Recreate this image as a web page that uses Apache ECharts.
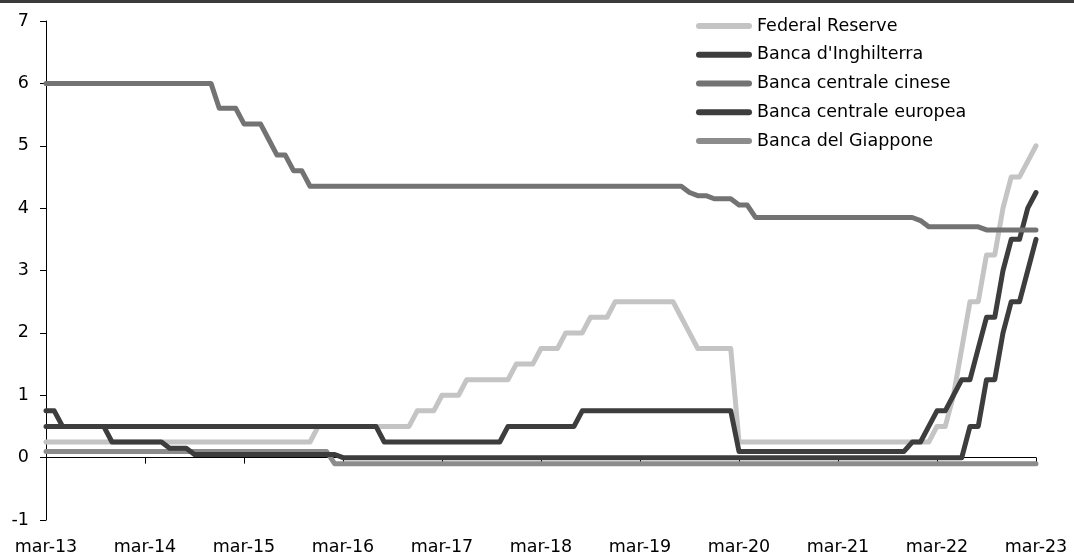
<!DOCTYPE html>
<html>
<head>
<meta charset="utf-8">
<script src="https://cdn.jsdelivr.net/npm/echarts@6/dist/echarts.min.js"></script>
<style>
html,body{margin:0;padding:0;background:#fff;}
#chart{width:1074px;height:556px;}
</style>
</head>
<body>
<div id="chart"></div>
<script>
// Monthly categories, mar-13 .. mar-23
const categories = [
  'mar-13','apr-13','mag-13','giu-13','lug-13','ago-13','set-13','ott-13','nov-13','dic-13','gen-14','feb-14',
  'mar-14','apr-14','mag-14','giu-14','lug-14','ago-14','set-14','ott-14','nov-14','dic-14','gen-15','feb-15',
  'mar-15','apr-15','mag-15','giu-15','lug-15','ago-15','set-15','ott-15','nov-15','dic-15','gen-16','feb-16',
  'mar-16','apr-16','mag-16','giu-16','lug-16','ago-16','set-16','ott-16','nov-16','dic-16','gen-17','feb-17',
  'mar-17','apr-17','mag-17','giu-17','lug-17','ago-17','set-17','ott-17','nov-17','dic-17','gen-18','feb-18',
  'mar-18','apr-18','mag-18','giu-18','lug-18','ago-18','set-18','ott-18','nov-18','dic-18','gen-19','feb-19',
  'mar-19','apr-19','mag-19','giu-19','lug-19','ago-19','set-19','ott-19','nov-19','dic-19','gen-20','feb-20',
  'mar-20','apr-20','mag-20','giu-20','lug-20','ago-20','set-20','ott-20','nov-20','dic-20','gen-21','feb-21',
  'mar-21','apr-21','mag-21','giu-21','lug-21','ago-21','set-21','ott-21','nov-21','dic-21','gen-22','feb-22',
  'mar-22','apr-22','mag-22','giu-22','lug-22','ago-22','set-22','ott-22','nov-22','dic-22','gen-23','feb-23',
  'mar-23'
];

const seriesNames = ['Federal Reserve', "Banca d'Inghilterra", 'Banca centrale cinese', 'Banca centrale europea', 'Banca del Giappone'];

const fed = [
  0.25,0.25,0.25,0.25,0.25,0.25,0.25,0.25,0.25,0.25,0.25,0.25,
  0.25,0.25,0.25,0.25,0.25,0.25,0.25,0.25,0.25,0.25,0.25,0.25,
  0.25,0.25,0.25,0.25,0.25,0.25,0.25,0.25,0.25,0.5,0.5,0.5,
  0.5,0.5,0.5,0.5,0.5,0.5,0.5,0.5,0.5,0.75,0.75,0.75,
  1.0,1.0,1.0,1.25,1.25,1.25,1.25,1.25,1.25,1.5,1.5,1.5,
  1.75,1.75,1.75,2.0,2.0,2.0,2.25,2.25,2.25,2.5,2.5,2.5,
  2.5,2.5,2.5,2.5,2.5,2.25,2.0,1.75,1.75,1.75,1.75,1.75,
  0.25,0.25,0.25,0.25,0.25,0.25,0.25,0.25,0.25,0.25,0.25,0.25,
  0.25,0.25,0.25,0.25,0.25,0.25,0.25,0.25,0.25,0.25,0.25,0.25,
  0.5,0.5,1.0,1.75,2.5,2.5,3.25,3.25,4.0,4.5,4.5,4.75,
  5.0
];

const boe = [
  0.5,0.5,0.5,0.5,0.5,0.5,0.5,0.5,0.5,0.5,0.5,0.5,
  0.5,0.5,0.5,0.5,0.5,0.5,0.5,0.5,0.5,0.5,0.5,0.5,
  0.5,0.5,0.5,0.5,0.5,0.5,0.5,0.5,0.5,0.5,0.5,0.5,
  0.5,0.5,0.5,0.5,0.5,0.25,0.25,0.25,0.25,0.25,0.25,0.25,
  0.25,0.25,0.25,0.25,0.25,0.25,0.25,0.25,0.5,0.5,0.5,0.5,
  0.5,0.5,0.5,0.5,0.5,0.75,0.75,0.75,0.75,0.75,0.75,0.75,
  0.75,0.75,0.75,0.75,0.75,0.75,0.75,0.75,0.75,0.75,0.75,0.75,
  0.1,0.1,0.1,0.1,0.1,0.1,0.1,0.1,0.1,0.1,0.1,0.1,
  0.1,0.1,0.1,0.1,0.1,0.1,0.1,0.1,0.1,0.25,0.25,0.5,
  0.75,0.75,1.0,1.25,1.25,1.75,2.25,2.25,3.0,3.5,3.5,4.0,
  4.25
];

const pboc = [
  6.0,6.0,6.0,6.0,6.0,6.0,6.0,6.0,6.0,6.0,6.0,6.0,
  6.0,6.0,6.0,6.0,6.0,6.0,6.0,6.0,6.0,5.6,5.6,5.6,
  5.35,5.35,5.35,5.1,4.85,4.85,4.6,4.6,4.35,4.35,4.35,4.35,
  4.35,4.35,4.35,4.35,4.35,4.35,4.35,4.35,4.35,4.35,4.35,4.35,
  4.35,4.35,4.35,4.35,4.35,4.35,4.35,4.35,4.35,4.35,4.35,4.35,
  4.35,4.35,4.35,4.35,4.35,4.35,4.35,4.35,4.35,4.35,4.35,4.35,
  4.35,4.35,4.35,4.35,4.35,4.35,4.25,4.2,4.2,4.15,4.15,4.15,
  4.05,4.05,3.85,3.85,3.85,3.85,3.85,3.85,3.85,3.85,3.85,3.85,
  3.85,3.85,3.85,3.85,3.85,3.85,3.85,3.85,3.85,3.85,3.8,3.7,
  3.7,3.7,3.7,3.7,3.7,3.7,3.65,3.65,3.65,3.65,3.65,3.65,
  3.65
];

const ecb = [
  0.75,0.75,0.5,0.5,0.5,0.5,0.5,0.5,0.25,0.25,0.25,0.25,
  0.25,0.25,0.25,0.15,0.15,0.15,0.05,0.05,0.05,0.05,0.05,0.05,
  0.05,0.05,0.05,0.05,0.05,0.05,0.05,0.05,0.05,0.05,0.05,0.05,
  0,0,0,0,0,0,0,0,0,0,0,0,
  0,0,0,0,0,0,0,0,0,0,0,0,
  0,0,0,0,0,0,0,0,0,0,0,0,
  0,0,0,0,0,0,0,0,0,0,0,0,
  0,0,0,0,0,0,0,0,0,0,0,0,
  0,0,0,0,0,0,0,0,0,0,0,0,
  0,0,0,0,0.5,0.5,1.25,1.25,2.0,2.5,2.5,3.0,
  3.5
];

const boj = [
  0.1,0.1,0.1,0.1,0.1,0.1,0.1,0.1,0.1,0.1,0.1,0.1,
  0.1,0.1,0.1,0.1,0.1,0.1,0.1,0.1,0.1,0.1,0.1,0.1,
  0.1,0.1,0.1,0.1,0.1,0.1,0.1,0.1,0.1,0.1,0.1,-0.1,
  -0.1,-0.1,-0.1,-0.1,-0.1,-0.1,-0.1,-0.1,-0.1,-0.1,-0.1,-0.1,
  -0.1,-0.1,-0.1,-0.1,-0.1,-0.1,-0.1,-0.1,-0.1,-0.1,-0.1,-0.1,
  -0.1,-0.1,-0.1,-0.1,-0.1,-0.1,-0.1,-0.1,-0.1,-0.1,-0.1,-0.1,
  -0.1,-0.1,-0.1,-0.1,-0.1,-0.1,-0.1,-0.1,-0.1,-0.1,-0.1,-0.1,
  -0.1,-0.1,-0.1,-0.1,-0.1,-0.1,-0.1,-0.1,-0.1,-0.1,-0.1,-0.1,
  -0.1,-0.1,-0.1,-0.1,-0.1,-0.1,-0.1,-0.1,-0.1,-0.1,-0.1,-0.1,
  -0.1,-0.1,-0.1,-0.1,-0.1,-0.1,-0.1,-0.1,-0.1,-0.1,-0.1,-0.1,
  -0.1
];

const colors = {
  fed: '#c4c4c4',
  boe: '#3d3d3d',
  pboc: '#737373',
  ecb: '#3d3d3d',
  boj: '#8c8c8c'
};

const FONT = 'DejaVu Sans';
const capsule = 'path://M3,0 H53 A3,3 0 0 1 53,6 H3 A3,3 0 0 1 3,0 Z';

function mkSeries(name, data, color) {
  return {
    name: name,
    type: 'line',
    data: data,
    xAxisIndex: 0,
    yAxisIndex: 0,
    showSymbol: false,
    symbol: 'none',
    lineStyle: { color: color, width: 5, cap: 'round', join: 'round' },
    itemStyle: { color: color },
    emphasis: { disabled: true },
    animation: false
  };
}

const chart = echarts.init(document.getElementById('chart'), null, { renderer: 'canvas' });
chart.setOption({
  animation: false,
  backgroundColor: '#ffffff',
  textStyle: { fontFamily: FONT },
  graphic: [
    { type: 'rect', left: 0, top: 0, shape: { x: 0, y: 0, width: 1074, height: 3 }, style: { fill: '#3b3b3b' }, silent: true }
  ],
  grid: { left: 46, right: 38, top: 21, bottom: 36, containLabel: false },
  legend: {
    data: seriesNames,
    orient: 'vertical',
    left: 691,
    top: 11,
    padding: 5,
    itemWidth: 56,
    itemHeight: 6,
    itemGap: 8.75,
    icon: capsule,
    textStyle: { fontFamily: FONT, fontSize: 17.5, color: '#000', lineHeight: 20 },
    selectedMode: false
  },
  xAxis: [
    {
      type: 'category',
      data: categories,
      boundaryGap: false,
      position: 'bottom',
      axisLine: { show: true, onZero: true, lineStyle: { color: '#000', width: 1 } },
      axisTick: { show: true, interval: 11, length: 6, inside: false, lineStyle: { color: '#000', width: 1 } },
      axisLabel: { show: false },
      splitLine: { show: false }
    },
    {
      type: 'category',
      data: categories,
      boundaryGap: false,
      position: 'bottom',
      axisLine: { show: false, onZero: false },
      axisTick: { show: false },
      axisLabel: { show: true, interval: 11, margin: 18, fontFamily: FONT, fontSize: 17.5, color: '#000' },
      splitLine: { show: false }
    }
  ],
  yAxis: {
    type: 'value',
    min: -1,
    max: 7,
    interval: 1,
    axisLine: { show: true, onZero: false, lineStyle: { color: '#000', width: 1 } },
    axisTick: { show: true, length: 6, lineStyle: { color: '#000', width: 1 } },
    axisLabel: { margin: 17, fontFamily: FONT, fontSize: 17.5, color: '#000' },
    splitLine: { show: false }
  },
  series: [
    mkSeries(seriesNames[0], fed, colors.fed),
    mkSeries(seriesNames[1], boe, colors.boe),
    mkSeries(seriesNames[2], pboc, colors.pboc),
    mkSeries(seriesNames[4], boj, colors.boj),
    mkSeries(seriesNames[3], ecb, colors.ecb)
  ]
});
</script>
</body>
</html>
